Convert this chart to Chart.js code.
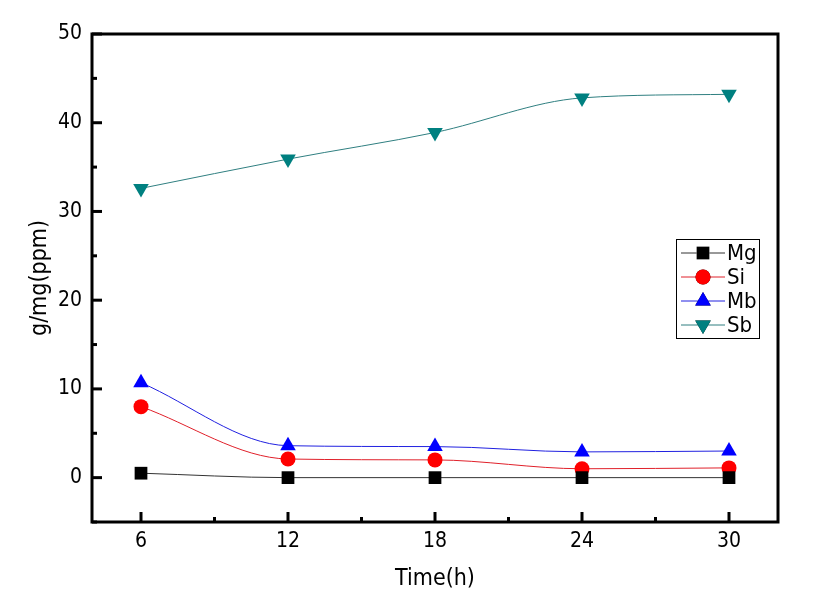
<!DOCTYPE html>
<html>
<head>
<meta charset="utf-8">
<script src="https://cdn.jsdelivr.net/npm/chart.js@4/dist/chart.umd.min.js"></script>
<style>
  html, body { margin: 0; padding: 0; background: #fff; }
  #wrap { width: 815px; height: 612px; }
</style>
</head>
<body>
<div id="wrap"><canvas id="chart" width="815" height="612"></canvas></div>
<script>
// values
const times = [6, 12, 18, 24, 30];
const mgValues = [0.5, 0, 0, 0, 0];
const siValues = [8.0, 2.1, 2.0, 1.0, 1.1];
const mbValues = [10.7, 3.6, 3.5, 2.9, 3.0];
const sbValues = [32.6, 35.9, 38.9, 42.8, 43.2];
const seriesNames = ['Mg', 'Si', 'Mb', 'Sb'];
const xMajorTicks = [6, 12, 18, 24, 30];
const yMajorTicks = [0, 10, 20, 30, 40, 50];

const FONT = '"Liberation Sans Narrow", "DejaVu Sans Condensed", "Liberation Sans", sans-serif';

function toPoints(values) {
  return values.map((v, i) => ({ x: times[i], y: v }));
}

function makeSet(label, values, color, lineColor, style, radius, rotation) {
  return {
    label: label,
    data: toPoints(values),
    borderColor: lineColor,
    backgroundColor: color,
    pointBackgroundColor: color,
    pointBorderColor: color,
    pointStyle: style,
    pointRadius: radius,
    pointRotation: rotation || 0,
    pointBorderWidth: 0,
    borderWidth: 1,
    cubicInterpolationMode: 'monotone',
  };
}

// inward ticks, box frame and the legend with line + marker
const framePlugin = {
  id: 'frame',
  afterDraw(chart) {
    const { ctx, chartArea: a, scales } = chart;
    ctx.save();
    ctx.strokeStyle = '#000';
    ctx.lineWidth = 3;
    // y ticks, every 5 (major every 10)
    for (let v = -5; v <= 50; v += 5) {
      const py = scales.y.getPixelForValue(v);
      const len = v % 10 === 0 ? 10 : 5;
      ctx.beginPath();
      ctx.moveTo(a.left, py);
      ctx.lineTo(a.left + len, py);
      ctx.stroke();
    }
    // x ticks, every 3 (major every 6)
    for (let v = 6; v <= 30; v += 3) {
      const px = scales.x.getPixelForValue(v);
      const len = v % 6 === 0 ? 10 : 5;
      ctx.beginPath();
      ctx.moveTo(px, a.bottom);
      ctx.lineTo(px, a.bottom - len);
      ctx.stroke();
    }
    ctx.strokeRect(a.left, a.top, a.right - a.left, a.bottom - a.top);

    // legend
    const bx = 676, by = 239, bw = 83, bh = 99;
    ctx.lineWidth = 1;
    ctx.fillStyle = '#fff';
    ctx.fillRect(bx, by, bw, bh);
    ctx.strokeRect(bx + 0.5, by + 0.5, bw, bh);
    ctx.font = '22px ' + FONT;
    ctx.textBaseline = 'middle';
    chart.data.datasets.forEach((ds, i) => {
      const yy = by + 14 + i * 24;
      ctx.strokeStyle = ds.borderColor;
      ctx.lineWidth = 1;
      ctx.beginPath();
      ctx.moveTo(bx + 5, yy);
      ctx.lineTo(bx + 49, yy);
      ctx.stroke();
      Chart.helpers.drawPoint(ctx, {
        pointStyle: ds.pointStyle,
        radius: ds.pointRadius,
        rotation: ds.pointRotation,
        borderWidth: 0,
      }, bx + 27, yy);
      ctx.fillStyle = ds.pointBackgroundColor;
      ctx.fill();
      ctx.fillStyle = '#000';
      ctx.fillText(seriesNames[i], bx + 51, yy + 1);
    });
    ctx.restore();
  }
};

new Chart(document.getElementById('chart'), {
  type: 'line',
  data: {
    datasets: [
      makeSet(seriesNames[0], mgValues, '#000000', '#333333', 'rect', 9),
      makeSet(seriesNames[1], siValues, '#ff0000', '#e0202a', 'circle', 7.5),
      makeSet(seriesNames[2], mbValues, '#0000ff', '#2020e0', 'triangle', 9),
      makeSet(seriesNames[3], sbValues, '#008080', '#2f7f80', 'triangle', 9, 180),
    ],
  },
  options: {
    responsive: false,
    animation: false,
    layout: { padding: { top: 34, right: 37, left: 0, bottom: 0 } },
    plugins: {
      legend: { display: false },
      tooltip: { enabled: false },
    },
    scales: {
      x: {
        type: 'linear',
        min: 4,
        max: 32,
        afterBuildTicks: (s) => { s.ticks = xMajorTicks.map(v => ({ value: v })); },
        afterFit: (s) => { s.height = 612 - 522; },
        grid: { display: false, drawTicks: false },
        border: { display: false },
        ticks: {
          color: '#000',
          padding: 7,
          maxRotation: 0,
          font: { family: FONT, size: 21 },
        },
        title: {
          display: true,
          text: 'Time(h)',
          color: '#000',
          font: { family: FONT, size: 23 },
          padding: { top: 4, bottom: 19 },
        },
      },
      y: {
        min: -5,
        max: 50,
        afterBuildTicks: (s) => { s.ticks = yMajorTicks.map(v => ({ value: v })); },
        afterFit: (s) => { s.width = 92; },
        grid: { display: false, drawTicks: false },
        border: { display: false },
        ticks: {
          color: '#000',
          padding: 10,
          font: { family: FONT, size: 21 },
        },
        title: {
          display: true,
          text: 'g/mg(ppm)',
          color: '#000',
          font: { family: FONT, size: 23 },
          padding: { top: 26, bottom: 0 },
        },
      },
    },
  },
  plugins: [framePlugin],
});
</script>
</body>
</html>
